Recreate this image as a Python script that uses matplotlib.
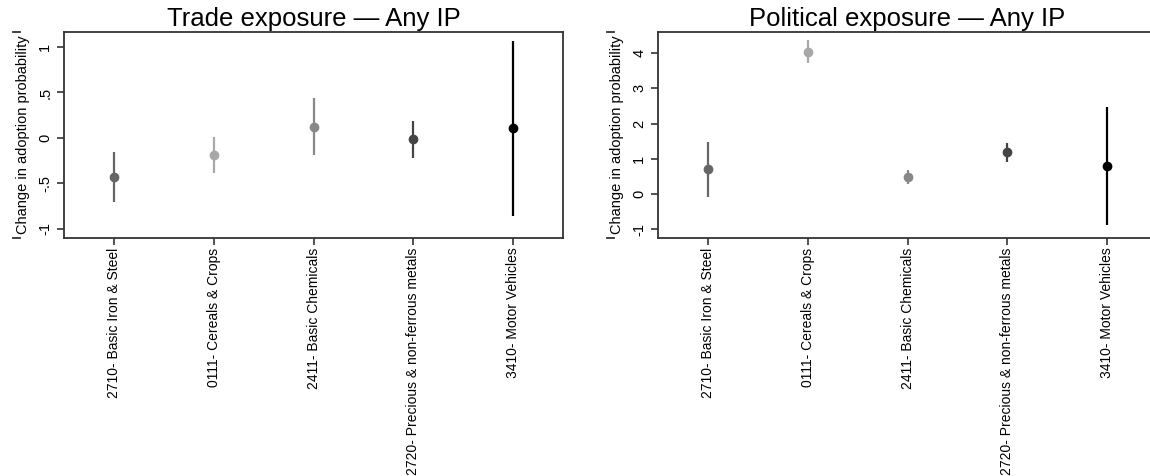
"""
Change in adoption probability by sector, trade vs political exposure
"""

import numpy as np
import matplotlib.pyplot as plt

sectors = ["2710- Basic Iron & Steel", "0111- Cereals & Crops", "2411- Basic Chemicals",
           "2720- Precious & non-ferrous metals", "3410- Motor Vehicles"]
colors = ["#666666", "#a8a8a8", "#888888", "#444444", "#000000"]

# Trade exposure: point estimate, lower and upper bound
trade_est = [-0.43, -0.19, 0.12, -0.01, 0.11]
trade_lo = [-0.70, -0.385, -0.19, -0.22, -0.86]
trade_hi = [-0.15, 0.01, 0.44, 0.19, 1.07]

# Political exposure
pol_est = [0.71, 4.03, 0.48, 1.18, 0.80]
pol_lo = [-0.08, 3.72, 0.28, 0.90, -0.88]
pol_hi = [1.48, 4.37, 0.67, 1.46, 2.47]

plt.rcParams['font.family'] = ['Liberation Sans', 'DejaVu Sans']

fig = plt.figure(figsize=(11.5, 4.76), dpi=100)
ax1 = fig.add_axes([0.0557, 0.5, 0.434, 0.4328])
ax2 = fig.add_axes([0.5722, 0.5, 0.434, 0.4328])


def draw(ax, est, lo, hi, title, yticks, ylabels, ylim):
    x = np.arange(1, len(est) + 1)
    for i in range(len(est)):
        ax.vlines(x[i], lo[i], hi[i], color=colors[i], linewidth=1.6)
        ax.plot(x[i], est[i], 'o', color=colors[i], markersize=6)
    ax.set_xlim(0.5, 5.5)
    ax.set_ylim(*ylim)
    ax.set_xticks(x)
    ax.set_xticklabels(sectors, rotation=90, fontsize=10)
    ax.set_yticks(yticks)
    ax.set_yticklabels(ylabels, rotation=90, va='center', fontsize=10.5)
    ax.tick_params(direction='out', length=5, width=1.2, color='#333333')
    ax.tick_params(axis='x', pad=2)
    for s in ax.spines.values():
        s.set_linewidth(1.3)
        s.set_color('#333333')
    ax.set_title(title, fontsize=18.5, pad=4)
    ax.set_ylabel("Change in adoption probability", fontsize=10.5, labelpad=6)
    # little dashes at both ends of the label, as in the original
    for yy in (1.0, 0.0):
        ax.plot([-0.103, -0.088], [yy, yy], transform=ax.transAxes,
                color='#333333', linewidth=1.3, clip_on=False)


draw(ax1, trade_est, trade_lo, trade_hi, "Trade exposure — Any IP",
     [-1, -0.5, 0, 0.5, 1], ["-1", "-.5", "0", ".5", "1"], (-1.1, 1.165))
draw(ax2, pol_est, pol_lo, pol_hi, "Political exposure — Any IP",
     [-1, 0, 1, 2, 3, 4], ["-1", "0", "1", "2", "3", "4"], (-1.25, 4.6))

plt.savefig('out.png', dpi=100)
